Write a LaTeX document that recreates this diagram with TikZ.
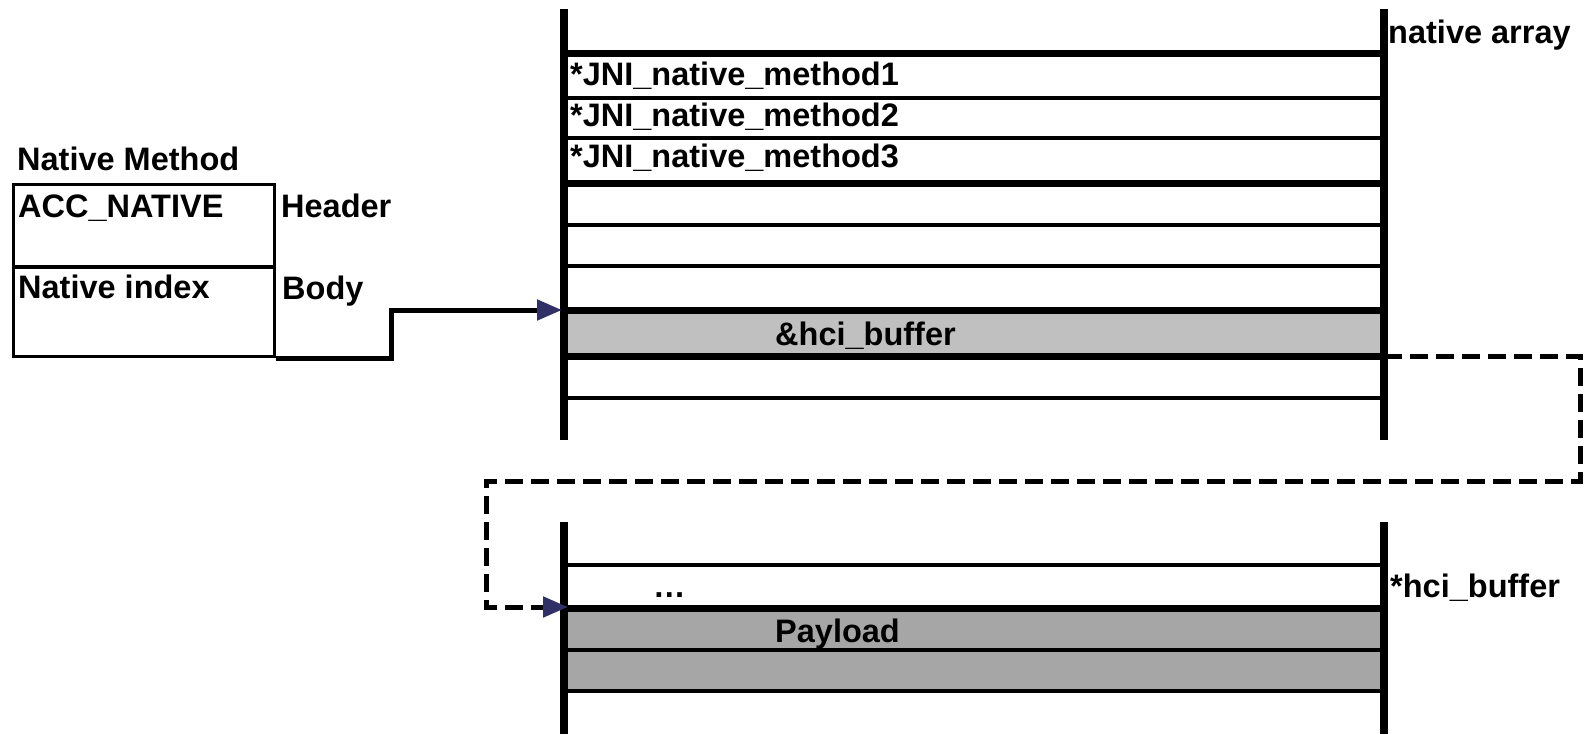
\documentclass[tikz,border=0pt]{standalone}
\usepackage{fontspec}
\setmainfont{Liberation Sans}
\usetikzlibrary{arrows.meta}
\definecolor{tipnavy}{RGB}{48,48,102}
\definecolor{cellgray}{RGB}{192,192,192}
\definecolor{payloadgray}{RGB}{166,166,166}
\begin{document}
\begin{tikzpicture}[x=1pt,y=-1pt,
  lbl/.style={inner sep=0pt, anchor=base west, font=\fontsize{32.5}{36}\selectfont\bfseries},
  wall/.style={line width=7.5pt},
  thickrule/.style={line width=7pt},
  thinrule/.style={line width=3.3pt},
  conn/.style={line width=5pt, -{Triangle[length=25pt,width=20pt,color=tipnavy,fill=tipnavy]}},
  ptr/.style={conn, dash pattern=on 18pt off 8pt},
]
\useasboundingbox (0,0) rectangle (1589,734);

% ---- Native Method record ----
\node[lbl] (title) at (17,170) {Native Method};
\node[draw, line width=3.3pt, minimum width=261pt, minimum height=172pt,
      inner sep=0pt, anchor=north west] (nm) at (12,183) {};
\draw[line width=3.3pt] (nm.west |- 0,267) -- (nm.east |- 0,267);
\node[lbl] (acc) at (18,217) {ACC\_NATIVE};
\node[lbl] (idx) at (18,298) {Native index};
\node[lbl] (hdr) at (281,217) {Header};
\node[lbl] (body) at (282,299) {Body};

% ---- native array ----
\fill[cellgray] (564,310) rectangle (1384,356);
\foreach \y in {98,138,225,266,398} \draw[thinrule] (564,\y) -- (1384,\y);
\foreach \y in {53,183,310,356} \draw[thickrule] (564,\y) -- (1384,\y);
\draw[wall] (564,9) -- (564,440);
\draw[wall] (1384,9) -- (1384,440);
\node[lbl] (arrname) at (1388,43) {native array};
\node[lbl] (m1) at (570,85) {*JNI\_native\_method1};
\node[lbl] (m2) at (570,126) {*JNI\_native\_method2};
\node[lbl] (m3) at (570,167) {*JNI\_native\_method3};
\node[lbl] (hciref) at (775,345) {\&hci\_buffer};
\coordinate (bodyIn) at (562,310);
\coordinate (hciOut) at (1384,356);

% ---- hci buffer ----
\fill[payloadgray] (564,608) rectangle (1384,691);
\foreach \y in {565,650,691} \draw[thinrule] (564,\y) -- (1384,\y);
\draw[thickrule] (564,608) -- (1384,608);
\draw[wall] (564,522) -- (564,734);
\draw[wall] (1384,522) -- (1384,734);
\node[lbl] (bufname) at (1390,597) {*hci\_buffer};
\node[lbl] (dots) at (653,597) {\textellipsis};
\node[lbl] (payload) at (775,642) {Payload};
\coordinate (bufIn) at (568,607);

% ---- pointers ----
\draw[conn] (nm.south east) -- ++(115,0) |- (bodyIn);
\draw[ptr] (hciOut) -- (1580,356) -- (1580,481) -- (486,481) |- (bufIn);
\end{tikzpicture}
\end{document}
